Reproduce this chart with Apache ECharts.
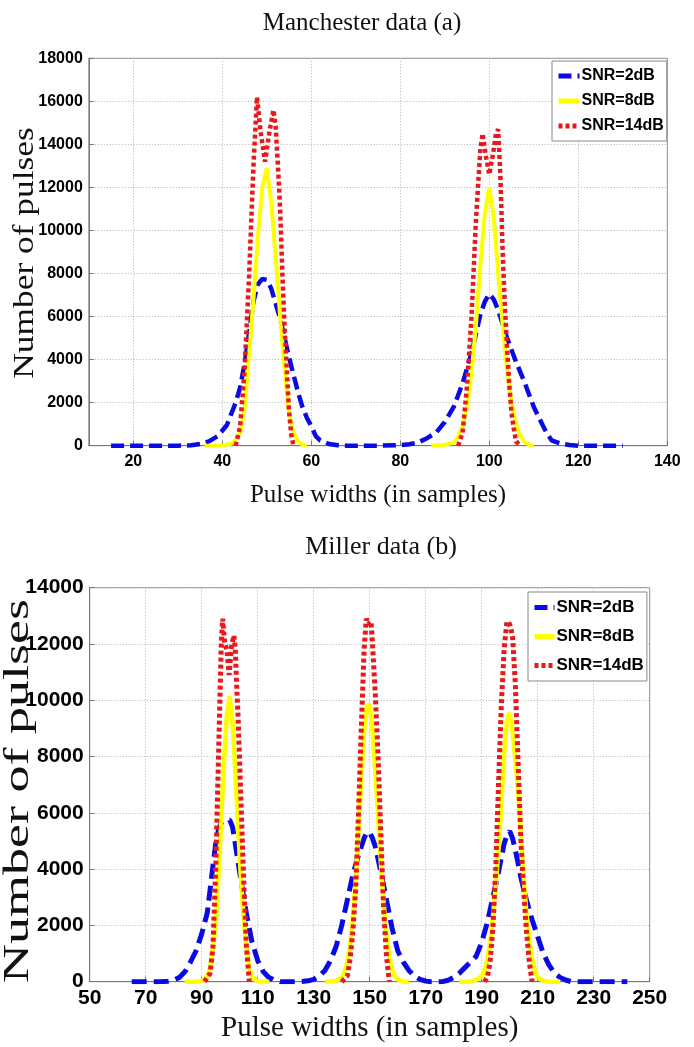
<!DOCTYPE html>
<html><head><meta charset="utf-8">
<script src="https://cdn.jsdelivr.net/npm/echarts@6/dist/echarts.min.js"></script>
<style>html,body{margin:0;padding:0;background:#fff}#c{width:694px;height:1047px}</style>
</head><body><div id="c"></div>
<script>
// ---------- data ----------
const seriesNames = ['SNR=2dB', 'SNR=8dB', 'SNR=14dB'];
const titles = ['Manchester data (a)', 'Miller data (b)'];
const xAxisTitle = 'Pulse widths (in samples)';
const yAxisTitle = 'Number of pulses';

const manchesterXTicks = [20, 40, 60, 80, 100, 120, 140];
const manchesterYTicks = [0, 2000, 4000, 6000, 8000, 10000, 12000, 14000, 16000, 18000];
const millerXTicks = [50, 70, 90, 110, 130, 150, 170, 190, 210, 230, 250];
const millerYTicks = [0, 2000, 4000, 6000, 8000, 10000, 12000, 14000];

// Manchester (a) - each series is a list of segments of [width, count]
const manchester2dB = [[
  [15,0],[20,0],[25,0],[30,0],[33,20],[35,80],[37,200],[39,450],[41,950],[43,2000],[44,2700],[45,3800],
  [46,5200],[47,6700],[48,7500],[49,7750],[50,7700],[51,7300],[52,6600],[53,5900],[54,5000],[55,4100],
  [56,3300],[57,2500],[58,1800],[59,1300],[60,900],[61,450],[62,250],[64,80],[66,20],[68,0],[70,0],
  [75,0],[80,30],[82,70],[84,150],[86,350],[88,600],[90,1100],[92,1800],[94,2900],[96,4300],[98,6100],
  [99,6700],[100,7050],[101,6800],[102,6300],[104,5000],[106,3900],[108,2900],[110,1800],[112,950],
  [113,550],[114,250],[116,100],[118,30],[120,0],[125,0],[130,0]
]];
const manchester8dB = [[
  [36,0],[40,0],[42,100],[43,250],[44,600],[45,1700],[46,4200],[47,6800],[48,9700],[49,12000],[50,12900],
  [51,11300],[52,8800],[53,6000],[54,3600],[55,1500],[56,600],[57,200],[58,50],[59,0]
],[
  [87,0],[90,40],[92,150],[93,400],[94,900],[95,1800],[96,3400],[97,5600],[98,8400],[99,10800],[100,12000],
  [101,10600],[102,8000],[103,5600],[104,3500],[105,2000],[106,1000],[107,450],[108,150],[109,40],[110,0]
]];
const manchester14dB = [[
  [43,0],[44,900],[45,3500],[46,7800],[47,13000],[47.8,16200],[48.6,14600],[49.6,13200],[50.6,14600],
  [51.5,15600],[52,14800],[52.5,13000],[53,11000],[53.5,8000],[54,5500],[54.5,3500],[55,1600],[55.5,500],[56,0]
],[
  [93,0],[94,600],[95,2800],[96,6000],[97,10500],[98,13800],[98.5,14500],[99.2,13500],[100,12600],
  [100.8,13500],[101.5,14500],[102,14700],[102.5,12500],[103,9000],[103.5,6500],[104,4500],[104.5,2800],
  [105,1500],[105.5,800],[106,200],[107,0]
]];

// Miller (b)
const miller2dB = [[
  [65,0],[75,0],[78,20],[80,60],[82,150],[84,350],[86,700],[88,1100],[90,1700],[92,2450],[94,4100],[95,4900],
  [96,5400],[97,5650],[98,5700],[100,5750],[101,5500],[102,4900],[104,3600],[106,2400],[108,1400],[110,750],
  [112,350],[114,150],[116,50],[118,0],[125,0],[128,30],[130,80],[132,200],[134,400],[136,750],[138,1250],
  [140,2000],[142,2900],[144,3800],[146,4500],[148,5100],[149,5300],[150,5300],[151,5100],[152,4800],
  [154,3900],[156,2900],[158,1900],[160,1100],[162,700],[164,400],[166,200],[168,80],[170,20],[172,0],
  [176,0],[178,50],[180,150],[182,300],[184,500],[186,700],[188,900],[190,1400],[192,2100],[194,3000],
  [196,3900],[198,4900],[199,5200],[200,5350],[201,5100],[202,4700],[204,3700],[206,2900],[208,2200],
  [210,1600],[212,1000],[214,600],[216,300],[218,150],[220,60],[222,0],[242,0]
]];
const miller8dB = [[
  [84,0],[88,0],[90,30],[91,80],[92,200],[93,500],[94,1200],[95,2000],[96,3800],[97,5800],[98,7900],
  [99,9500],[100,10150],[101,9200],[102,7500],[103,5500],[104,3700],[105,2200],[106,1200],[107,500],
  [108,200],[109,80],[110,20],[112,0],[114,0]
],[
  [134,0],[138,30],[140,150],[141,350],[142,700],[143,1300],[144,2300],[145,3600],[146,5300],[147,7200],
  [148,8900],[149,9800],[150,9850],[151,8900],[152,7500],[153,5900],[154,4200],[155,2800],[156,1700],
  [157,900],[158,450],[159,200],[160,80],[162,0],[164,0]
],[
  [182,0],[186,0],[188,60],[190,200],[191,400],[192,800],[193,1400],[194,2300],[195,3400],[196,4700],
  [197,6300],[198,8100],[199,9300],[200,9550],[201,8900],[202,7900],[203,6800],[204,5300],[205,3700],
  [206,2400],[207,1500],[208,800],[209,400],[210,150],[212,40],[214,0],[218,0]
]];
const miller14dB = [[
  [91,0],[93,300],[94,1200],[95,4000],[96,8000],[97,12000],[97.5,12900],[98.2,12000],[99,11800],
  [99.8,10900],[100.6,11900],[101.5,12300],[102,11800],[102.5,10500],[103,9400],[104,6500],[105,3600],
  [106,1200],[107,0]
],[
  [140,0],[142,200],[143,800],[144,1800],[145,3300],[146,6000],[147,9000],[148,11800],[148.8,12900],
  [149.5,12700],[150.5,12800],[151,12000],[152,10200],[153,8000],[154,5200],[155,2500],[156,900],[157,0]
],[
  [191,0],[192,150],[193,700],[194,1900],[195,4000],[196,7000],[197,9800],[198,11800],[199,12800],
  [200,12700],[201,12300],[202,10600],[203,7800],[204,5000],[205,3200],[206,1800],[207,700],[208,0]
]];

// ---------- build ----------
function joinSegments(segs) {
  const out = [];
  segs.forEach((s, i) => {
    if (i > 0) out.push([s[0][0] - 0.5, '-']);
    s.forEach(p => out.push(p));
  });
  return out;
}
const colors = ['#0a0ae6', '#ffff00', '#e8191c'];
const serif = 'Liberation Serif';
const sans = 'Liberation Sans';

function mkSeries(name, segs, idx, colorIdx, width, dash) {
  const types = [dash, 'solid', [4, 3]];
  return {
    name: name, type: 'line', xAxisIndex: idx, yAxisIndex: idx,
    data: joinSegments(segs), showSymbol: false, symbol: 'none',
    connectNulls: false, animation: false,
    lineStyle: { color: colors[colorIdx], width: width, type: types[colorIdx], cap: 'butt' },
    itemStyle: { color: colors[colorIdx] }
  };
}

// vertical (rotated, lengthwise-stretched) y-axis title like the scanned figure
function yTitle(cx, cy, size, stretch) {
  return {
    type: 'text', x: cx, y: cy, rotation: Math.PI / 2, scaleX: stretch, scaleY: 1, z: 0,
    style: { text: yAxisTitle, fontFamily: serif, fontSize: size, fill: '#111',
             align: 'center', verticalAlign: 'middle', textAlign: 'center', textVerticalAlign: 'middle' }
  };
}

const gridLine = { show: true, lineStyle: { color: '#b4b4b4', width: 1, type: [1, 2] } };
const axisLineS = { show: true, lineStyle: { color: '#777', width: 1 } };
const plain = v => String(v);

const chart = echarts.init(document.getElementById('c'), null, { renderer: 'canvas' });
chart.setOption({
  backgroundColor: '#fff',
  animation: false,
  title: [
    { text: titles[0], left: 357, top: 6, textAlign: 'center',
      textStyle: { fontFamily: serif, fontWeight: 'normal', fontSize: 25, color: '#111' } },
    { text: titles[1], left: 376, top: 529, textAlign: 'center',
      textStyle: { fontFamily: serif, fontWeight: 'normal', fontSize: 26, color: '#111' } }
  ],
  graphic: [
    yTitle(25, 253, 29, 1.22),
    yTitle(19, 791, 36, 1.5)
  ],
  grid: [
    { left: 88.8, top: 58.3, width: 578.5, height: 387.4, show: true, borderColor: '#888', borderWidth: 1, outerBoundsMode: 'none' },
    { left: 89.7, top: 587.7, width: 560, height: 394, show: true, borderColor: '#888', borderWidth: 1, outerBoundsMode: 'none' }
  ],
  legend: [
    { data: seriesNames, orient: 'vertical', left: 552, top: 61,
      padding: [7, 3, 7, 4], itemGap: 9, itemWidth: 21, itemHeight: 10,
      itemStyle: { opacity: 0 }, lineStyle: { width: 5 },
      backgroundColor: '#fff', borderColor: '#888', borderWidth: 1, borderRadius: 0,
      textStyle: { fontFamily: sans, fontWeight: 'bold', fontSize: 16, color: '#000', padding: [0, 0, 0, -3] } },
    { data: seriesNames, orient: 'vertical', left: 528, top: 592,
      padding: [7, 3, 7, 4], itemGap: 12, itemWidth: 20, itemHeight: 10,
      itemStyle: { opacity: 0 }, lineStyle: { width: 5 },
      backgroundColor: '#fff', borderColor: '#888', borderWidth: 1, borderRadius: 0,
      textStyle: { fontFamily: sans, fontWeight: 'bold', fontSize: 17, color: '#000', padding: [0, 0, 0, -3] } }
  ],
  xAxis: [
    { gridIndex: 0, type: 'value', min: 10, max: 140,
      name: xAxisTitle, nameLocation: 'middle', nameGap: 37, nameMoveOverlap: false,
      nameTextStyle: { fontFamily: serif, fontSize: 25, color: '#111' },
      axisLine: axisLineS, splitLine: gridLine,
      axisTick: { show: true, inside: true, length: 5, lineStyle: { color: '#777' }, customValues: manchesterXTicks },
      axisLabel: { customValues: manchesterXTicks, formatter: plain, fontFamily: sans, fontWeight: 'bold', fontSize: 16, color: '#000', margin: 8 } },
    { gridIndex: 1, type: 'value', min: 50, max: 250, interval: 20,
      name: xAxisTitle, nameLocation: 'middle', nameGap: 32, nameMoveOverlap: false,
      nameTextStyle: { fontFamily: serif, fontSize: 29, color: '#111' },
      axisLine: axisLineS, splitLine: gridLine,
      axisTick: { show: true, inside: true, length: 5, lineStyle: { color: '#777' } },
      axisLabel: { formatter: plain, fontFamily: sans, fontWeight: 'bold', fontSize: 21, color: '#000', margin: 6 } }
  ],
  yAxis: [
    { gridIndex: 0, type: 'value', min: manchesterYTicks[0], max: manchesterYTicks[manchesterYTicks.length - 1], interval: 2000,
      axisLine: axisLineS, splitLine: gridLine,
      axisTick: { show: true, inside: true, length: 5, lineStyle: { color: '#777' } },
      axisLabel: { formatter: plain, fontFamily: sans, fontWeight: 'bold', fontSize: 16, color: '#000', margin: 6 } },
    { gridIndex: 1, type: 'value', min: millerYTicks[0], max: millerYTicks[millerYTicks.length - 1], interval: 2000,
      axisLine: axisLineS, splitLine: gridLine,
      axisTick: { show: true, inside: true, length: 5, lineStyle: { color: '#777' } },
      axisLabel: { formatter: plain, fontFamily: sans, fontWeight: 'bold', fontSize: 21, color: '#000', margin: 6 } }
  ],
  series: [
    mkSeries(seriesNames[0], manchester2dB, 0, 0, 4.5, [13, 6]),
    mkSeries(seriesNames[1], manchester8dB, 0, 1, 4, null),
    mkSeries(seriesNames[2], manchester14dB, 0, 2, 4.5, null),
    mkSeries(seriesNames[0], miller2dB, 1, 0, 5, [15, 7]),
    mkSeries(seriesNames[1], miller8dB, 1, 1, 4.5, null),
    mkSeries(seriesNames[2], miller14dB, 1, 2, 5, null)
  ]
});
</script></body></html>
